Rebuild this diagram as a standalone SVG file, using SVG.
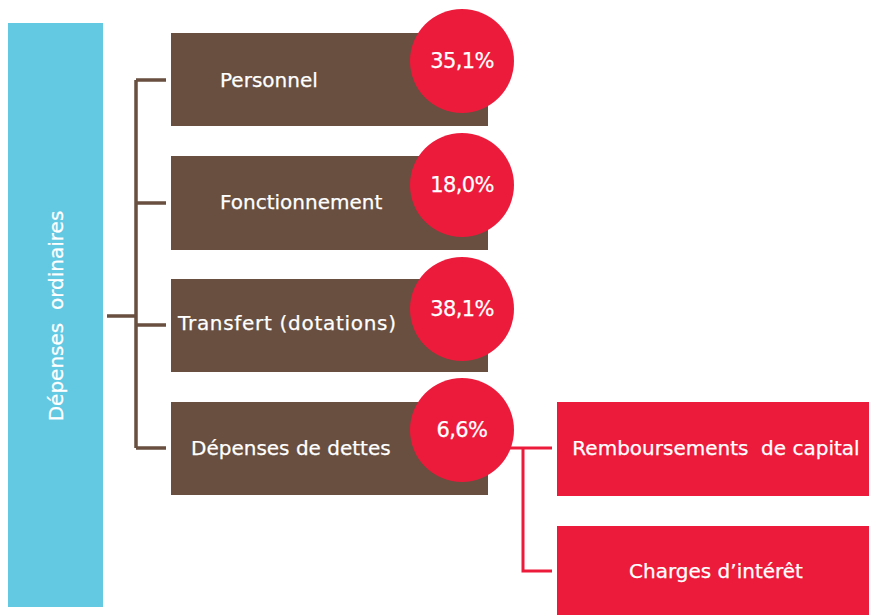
<svg xmlns="http://www.w3.org/2000/svg" width="869" height="615" viewBox="0 0 869 615">
  <style>
    .lbl { font-family: "DejaVu Sans", Verdana, sans-serif; font-size: 20px; fill: #ffffff; stroke: #ffffff; stroke-width: 0.25; }
    .pct { font-family: "DejaVu Sans", Verdana, sans-serif; font-size: 21px; letter-spacing: -0.6px; fill: #ffffff; stroke: #ffffff; stroke-width: 0.25; text-anchor: middle; }
    .mid { text-anchor: middle; }
    .brown { fill: #684f40; }
    .red { fill: #ed1b3b; }
    .wire-b { fill: none; stroke: #684f40; stroke-width: 3.5; }
    .wire-r { fill: none; stroke: #ed1b3b; stroke-width: 3; }
  </style>

  <!-- connectors -->
  <g id="connectors">
    <path class="wire-b" d="M107 316 H136 M136 80 V448 M136 80 H166 M136 203 H166 M136 325 H166 M136 448 H166"/>
    <path class="wire-r" d="M508 448 H552 M523 448 V571 H552"/>
  </g>

  <!-- root -->
  <g id="depenses-ordinaires">
    <rect x="8" y="23" width="95" height="584" fill="#63c9e3"/>
    <text class="lbl mid" transform="translate(63 316) rotate(-90)" xml:space="preserve">Dépenses  ordinaires</text>
  </g>

  <g id="personnel">
    <rect class="brown" x="171" y="33" width="317" height="93"/>
    <text class="lbl" x="220" y="87">Personnel</text>
    <circle class="red" cx="462" cy="61" r="52"/>
    <text class="pct" x="462" y="68">35,1%</text>
  </g>

  <g id="fonctionnement">
    <rect class="brown" x="171" y="156" width="317" height="94"/>
    <text class="lbl" x="220" y="209">Fonctionnement</text>
    <circle class="red" cx="462" cy="185" r="52"/>
    <text class="pct" x="462" y="192">18,0%</text>
  </g>

  <g id="transfert">
    <rect class="brown" x="171" y="279" width="317" height="93"/>
    <text class="lbl" x="178" y="330" textLength="218">Transfert (dotations)</text>
    <circle class="red" cx="462" cy="309" r="52"/>
    <text class="pct" x="462" y="316">38,1%</text>
  </g>

  <g id="dettes">
    <rect class="brown" x="171" y="402" width="317" height="93"/>
    <text class="lbl" x="191" y="455">Dépenses de dettes</text>
    <circle class="red" cx="462" cy="430" r="52"/>
    <text class="pct" x="462" y="437">6,6%</text>
  </g>

  <g id="remboursements">
    <rect class="red" x="557" y="402" width="312" height="94"/>
    <text class="lbl mid" x="716" y="455" xml:space="preserve">Remboursements  de capital</text>
  </g>

  <g id="charges">
    <rect class="red" x="557" y="526" width="312" height="89"/>
    <text class="lbl mid" x="716" y="578">Charges d’intérêt</text>
  </g>
</svg>
